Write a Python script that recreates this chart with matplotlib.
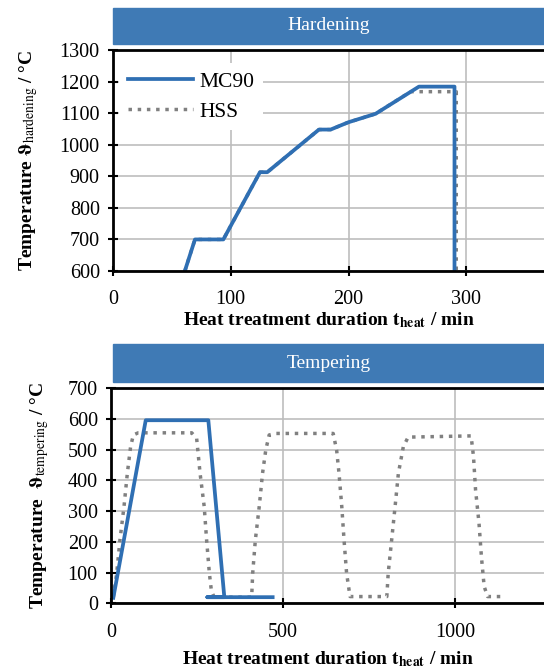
import matplotlib
matplotlib.use('Agg')
import matplotlib.pyplot as plt
from matplotlib.patches import Rectangle

plt.rcParams['font.family'] = ['Liberation Serif', 'DejaVu Serif']
plt.rcParams['mathtext.fontset'] = 'stix'

# hardening cycle (min, degC)
hard_t_mc90 = [61, 69.6, 93.7, 124.8, 131, 174.9, 184.8, 199.8, 223, 259.8, 290, 290]
hard_T_mc90 = [600, 700, 700, 913, 913, 1048, 1048, 1071, 1098, 1184, 1184, 600]
hard_t_hss = [61, 69.6, 93.7, 124.8, 131, 174.9, 184.8, 199.8, 223, 252.7, 291.5, 291.5]
hard_T_hss = [600, 700, 700, 913, 913, 1048, 1048, 1071, 1098, 1168, 1168, 600]

# tempering cycles (min, degC)
temp_t_mc90 = [6.7, 101, 283, 329.5, 280, 470]
temp_T_mc90 = [18, 596, 596, 20, 20, 20]
temp_t_hss = [6.7, 16.6, 26, 37.8, 47.5, 57, 65, 79, 234.7, 249, 259, 271, 278, 286, 292, 300,
              409, 412, 419.7, 431, 440.6, 450, 459.9, 479, 646, 656, 663, 671, 677.6, 685, 695,
              802, 806, 816, 826, 835.6, 850, 864, 1047, 1054, 1060, 1070, 1077, 1085, 1095, 1135]
temp_T_hss = [20, 98, 206, 315, 423, 510, 548, 555, 555, 537, 423, 315, 206, 98, 40, 20,
              20, 98, 206, 315, 423, 499, 548, 553, 553, 499, 423, 315, 206, 98, 22,
              22, 98, 206, 315, 423, 510, 541, 545, 478, 369, 261, 152, 55, 22, 22]

blue = '#2f6fb3'
grey = '#808080'
banner = '#3f7ab5'

fig = plt.figure(figsize=(5.44, 6.72), dpi=100)


def style(ax, xlim, ylim, xticks, yticks, xpad):
    ax.set_xlim(*xlim)
    ax.set_ylim(*ylim)
    ax.set_xticks(xticks)
    ax.set_yticks(yticks)
    ax.grid(True, color='#bdbdbd', linewidth=1.2)
    ax.set_axisbelow(True)
    ax.spines['right'].set_visible(False)
    for s in ['left', 'bottom', 'top']:
        ax.spines[s].set_linewidth(2)
    ax.tick_params(direction='inout', length=7, width=1.5, labelsize=14.5, pad=6)
    ax.tick_params(axis='x', pad=xpad)


def add_banner(y0, y1, text):
    fig.patches.append(Rectangle((113 / 544, y0), 1 - 113 / 544, y1 - y0,
                                 transform=fig.transFigure, color=banner, zorder=0))
    fig.text((113 / 544 + 1) / 2, (y0 + y1) / 2, text, color='white', fontsize=14,
             ha='center', va='center')


# hardening panel
ax1 = fig.add_axes([113 / 544, 0.5967, 1 - 113 / 544, 0.3289])
ax1.plot(hard_t_hss, hard_T_hss, color=grey, linestyle=':', linewidth=2.5, label='HSS')
ax1.plot(hard_t_mc90, hard_T_mc90, color=blue, linewidth=2.7, label='MC90')
style(ax1, (0, 366), (600, 1300), [0, 100, 200, 300], range(600, 1301, 100), 10)
h, l = ax1.get_legend_handles_labels()
leg = ax1.legend(h[::-1], l[::-1], loc='upper left', bbox_to_anchor=(0.0, 0.97), fontsize=15.5,
                 frameon=True, facecolor='white', edgecolor='none', framealpha=1,
                 handlelength=3.0, handletextpad=0.3, borderaxespad=0.3, labelspacing=0.45)
leg.get_frame().set_boxstyle('square', pad=0.0)
ax1.set_xlabel(r'Heat treatment duration $\mathbf{t_{heat}}$ / min', fontsize=14,
               fontweight='bold', labelpad=1)
ax1.set_ylabel(r'Temperature $\mathbf{\vartheta}_{\mathrm{hardening}}$ / °C', fontsize=14,
               fontweight='bold', labelpad=14)
add_banner(1 - 44 / 672, 1 - 8 / 672, 'Hardening')

# tempering panel
ax2 = fig.add_axes([111 / 544, 0.1022, 1 - 111 / 544, 0.32])
ax2.plot(temp_t_hss, temp_T_hss, color=grey, linestyle=':', linewidth=2.5)
ax2.plot(temp_t_mc90, temp_T_mc90, color=blue, linewidth=2.7)
style(ax2, (0, 1259), (0, 700), [0, 500, 1000], range(0, 701, 100), 11)
ax2.set_xlabel(r'Heat treatment duration $\mathbf{t_{heat}}$ / min', fontsize=14,
               fontweight='bold', labelpad=5)
ax2.set_ylabel(r'Temperature  $\mathbf{\vartheta}_{\mathrm{tempering}}$ / °C', fontsize=14,
               fontweight='bold', labelpad=12)
add_banner(1 - 382 / 672, 1 - 344 / 672, 'Tempering')

fig.savefig('out.png', dpi=100)
